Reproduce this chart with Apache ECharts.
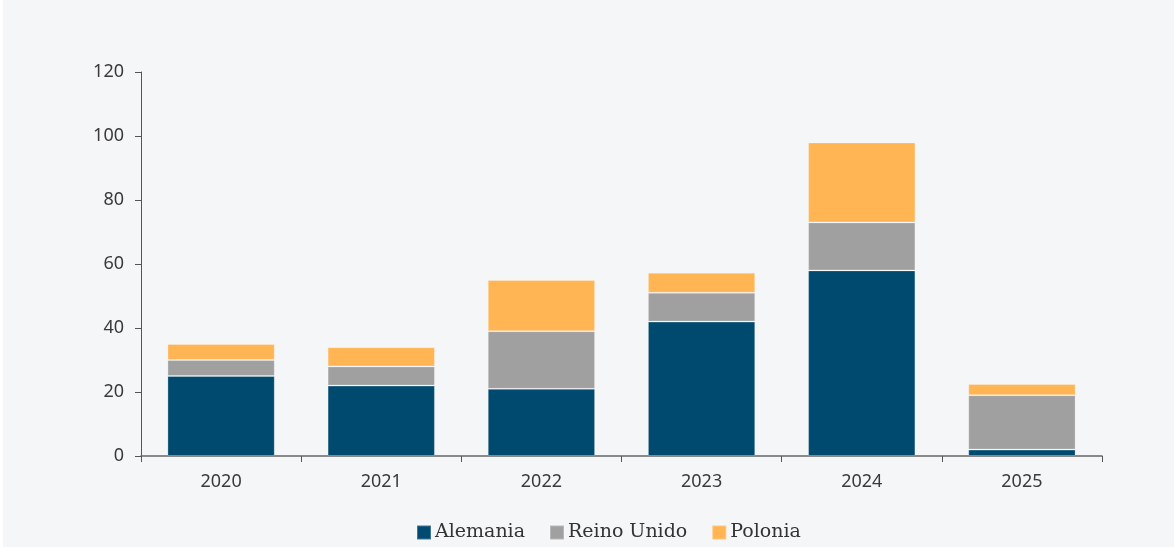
<!DOCTYPE html>
<html>
<head>
<meta charset="utf-8">
<script src="https://cdn.jsdelivr.net/npm/echarts@6/dist/echarts.min.js"></script>
<style>
    html, body { margin: 0; padding: 0; background: #ffffff; }
    #chart { position: absolute; left: 3px; top: 0; width: 1171px; height: 547px; background: #f5f6f8; }
</style>
</head>
<body>
<div id="chart"></div>
<script>
    // datos
    const years = ['2020', '2021', '2022', '2023', '2024', '2025'];
    const alemania = [25, 22, 21, 42, 58, 2];
    const reinoUnido = [5, 6, 18, 9, 15, 17];
    const polonia = [5, 6, 16, 6.3, 25, 3.5];

    const chart = echarts.init(document.getElementById('chart'));

    function barSerie(name, data, color) {
        return {
            name: name,
            type: 'bar',
            stack: 'total',
            barWidth: '67%',
            data: data,
            itemStyle: { color: color, borderColor: 'rgba(255,255,255,0.25)', borderWidth: 1 }
        };
    }

    const option = {
        animation: false,
        backgroundColor: '#f5f6f8',
        grid: { left: 138, right: 72, top: 72, bottom: 91 },
        legend: {
            bottom: 0,
            left: 408,
            itemWidth: 14,
            itemHeight: 14,
            itemGap: 24,
            icon: 'rect',
            textStyle: { fontFamily: 'DejaVu Serif', fontSize: 19, color: '#333', padding: [0, 0, 0, -1] },
            data: ['Alemania', 'Reino Unido', 'Polonia']
        },
        xAxis: {
            type: 'category',
            data: years,
            axisLine: { lineStyle: { color: '#666', width: 1.5 } },
            axisTick: { show: true, length: 6, lineStyle: { color: '#555' } },
            axisLabel: { color: '#3a3a3a', fontSize: 18, fontFamily: 'Noto Sans', margin: 17 }
        },
        yAxis: {
            type: 'value',
            min: 0,
            max: 120,
            interval: 20,
            splitLine: { show: false },
            axisLine: { show: true, lineStyle: { color: '#555', width: 1 } },
            axisTick: { show: true, length: 6, lineStyle: { color: '#555' } },
            axisLabel: { color: '#3a3a3a', fontSize: 18, fontFamily: 'Noto Sans', margin: 17 }
        },
        series: [
            barSerie('Alemania', alemania, '#004a70'),
            barSerie('Reino Unido', reinoUnido, '#a0a0a0'),
            barSerie('Polonia', polonia, '#ffb554')
        ]
    };

    chart.setOption(option);
</script>
</body>
</html>
